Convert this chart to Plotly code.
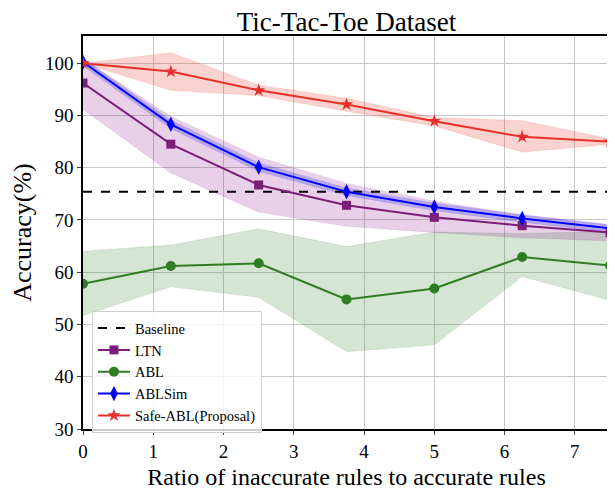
import plotly.graph_objects as go

x = [0, 1.25, 2.5, 3.75, 5, 6.25, 7.5]
baseline = 75.4

ltn = [96.2, 84.5, 76.7, 72.8, 70.5, 68.9, 67.6]
ltn_hi = [100.8, 89.8, 82.0, 77.0, 73.6, 70.9, 69.0]
ltn_lo = [91.2, 79.0, 71.5, 68.8, 67.6, 66.6, 66.0]

abl = [57.8, 61.2, 61.7, 54.8, 56.9, 62.9, 61.3]
abl_hi = [64.0, 65.2, 68.3, 64.9, 67.7, 67.4, 67.8]
abl_lo = [51.7, 57.2, 55.2, 44.8, 46.1, 59.2, 54.6]

ablsim = [100.2, 88.3, 80.1, 75.4, 72.5, 70.3, 68.4]
ablsim_hi = [100.9, 89.1, 80.9, 76.1, 73.2, 71.0, 69.1]
ablsim_lo = [99.5, 87.5, 79.3, 74.7, 71.8, 69.6, 67.7]

safe = [100.0, 98.4, 94.8, 92.1, 88.9, 85.9, 85.0]
safe_hi = [100.0, 102.0, 95.8, 93.3, 89.6, 89.0, 85.5]
safe_lo = [100.0, 94.8, 93.8, 90.8, 88.0, 83.0, 84.5]

xticks = [0, 1, 2, 3, 4, 5, 6, 7]
yticks = [30, 40, 50, 60, 70, 80, 90, 100]

FONT = "Liberation Serif"
fig = go.Figure()

def band(hi, lo, color):
    fig.add_trace(go.Scatter(x=x, y=hi, mode="lines", line=dict(width=0.6, color=color),
                             showlegend=False, hoverinfo="skip"))
    fig.add_trace(go.Scatter(x=x, y=lo, mode="lines", line=dict(width=0.6, color=color),
                             fill="tonexty", fillcolor=color, showlegend=False, hoverinfo="skip"))

band(abl_hi, abl_lo, "rgba(46,125,34,0.2)")
band(ltn_hi, ltn_lo, "rgba(128,0,128,0.18)")
band(ablsim_hi, ablsim_lo, "rgba(0,0,255,0.2)")
band(safe_hi, safe_lo, "rgba(232,48,40,0.22)")

fig.add_trace(go.Scatter(x=[0, 7.5], y=[baseline, baseline], mode="lines", name="Baseline",
                         legendgroup="a",
                         line=dict(color="black", width=2, dash="dash")))
fig.add_trace(go.Scatter(x=x, y=ltn, mode="lines+markers", name="LTN", legendgroup="b",
                         line=dict(color="#7B1E7A", width=2),
                         marker=dict(symbol="square", size=9, color="#7B1E7A")))
fig.add_trace(go.Scatter(x=x, y=abl, mode="lines+markers", name="ABL", legendgroup="c",
                         line=dict(color="#2E7D22", width=2),
                         marker=dict(symbol="circle", size=10, color="#2E7D22")))
fig.add_trace(go.Scatter(x=x, y=ablsim, mode="lines+markers", name="ABLSim", legendgroup="d",
                         line=dict(color="#0000FF", width=2),
                         marker=dict(symbol="diamond-tall", size=11, color="#0000FF")))
fig.add_trace(go.Scatter(x=x, y=safe, mode="lines+markers", name="Safe-ABL(Proposal)",
                         legendgroup="e",
                         line=dict(color="#E8302A", width=2),
                         marker=dict(symbol="star", size=10, color="#E8302A")))

# page body has an 8px default margin, so the figure is 8px smaller than the window
fig.update_layout(
    width=607, height=484,
    margin=dict(l=75, r=5, t=28, b=63, autoexpand=False),
    paper_bgcolor="white", plot_bgcolor="white",
    font=dict(family=FONT, color="black"),
    title=dict(text="Tic-Tac-Toe Dataset", x=0.5, xref="paper", xanchor="center",
               y=0.972, yref="container", yanchor="middle",
               font=dict(family=FONT, size=27)),
    showlegend=True,
    legend=dict(x=0.017, y=0.3, xanchor="left", yanchor="top", traceorder="normal",
                bgcolor="rgba(255,255,255,0.8)", bordercolor="#d0d0d0", borderwidth=1,
                font=dict(family=FONT, size=14.5), itemwidth=32, tracegroupgap=0),
)
fig.update_xaxes(range=[0, 7.5], tickvals=xticks, showgrid=True, gridcolor="#c8c8c8", gridwidth=1,
                 showline=True, linecolor="black", linewidth=1.5, mirror=True, automargin=False,
                 ticks="outside", ticklen=4, tickfont=dict(family=FONT, size=19),
                 title=dict(text="Ratio of inaccurate rules to accurate rules",
                            font=dict(family=FONT, size=24), standoff=8),
                 zeroline=False)
fig.update_yaxes(range=[30, 105.2], tickvals=yticks, showgrid=True, gridcolor="#c8c8c8", gridwidth=1,
                 showline=True, linecolor="black", linewidth=1.5, mirror=True, automargin=False,
                 ticks="outside", ticklen=4, tickfont=dict(family=FONT, size=19),
                 title=dict(text="Accuracy(%)", font=dict(family=FONT, size=26), standoff=6),
                 zeroline=False)

fig.write_html("out.html")
